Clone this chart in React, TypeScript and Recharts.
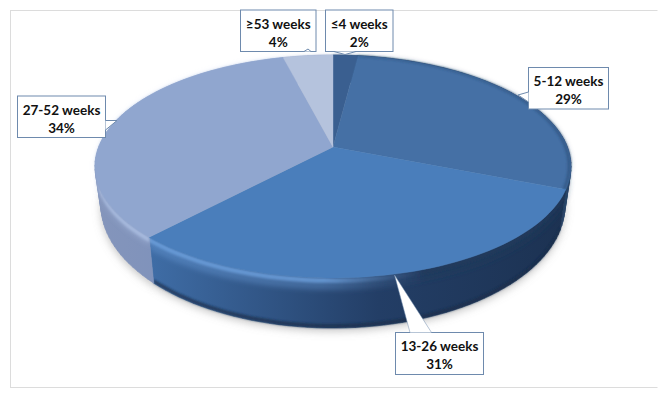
import React from 'react';
import { PieChart, Pie } from 'recharts';

// Share of cases by waiting time
const categories = ['≤4 weeks', '5-12 weeks', '13-26 weeks', '27-52 weeks', '≥53 weeks'];
const shares = [2, 29, 31, 34, 4];

const topColors = ['#3A5F90', '#4570A5', '#4A7EBB', '#90A6CF', '#B5C3DD'];
const wallColors = [
  ['#24405F', '#24405F'],
  ['#1E3757', '#2A4568'],
  ['#3F6DA6', '#1C3252'],
  ['#8495BB', '#7D91BB'],
  ['#8A9CC0', '#8A9CC0'],
];
const bevelColors = [
  ['#3A5F90', '#3A5F90'],
  ['#22395C', '#2A4568'],
  ['#6FA2DF', '#21395C'],
  ['#AEC1E4', '#A8BCE2'],
  ['#B5C3DD', '#B5C3DD'],
];

// callout boxes: x, y, w, h and pointer triangle
const callouts = [
  { box: [325.5, 10, 67.5, 41.5], ptr: [[334, 51.5], [345, 54.5], [356, 51.5]] },
  { box: [528.5, 67.5, 80, 41.5], ptr: [[528.5, 92], [518, 95], [528.5, 102]] },
  { box: [395.5, 332.5, 88, 42], ptr: [[410, 332.5], [394.5, 275], [431.5, 332.5]] },
  { box: [17.5, 96, 88, 41.5], ptr: [[105.5, 120.5], [117, 120.5], [105.5, 130]] },
  { box: [240.5, 10, 75.5, 41.5], ptr: [[304, 51.5], [308, 49], [311, 51.5]] },
];

const table = categories.map((name, i) => ({ name, value: shares[i] }));

const ASPECT = 2.17;
const TILT = 0.175;
// lower rim of the disc: narrower in x, stretched in y
const BOTTOM = { sx: 0.975, sy: 1.104, dy: 36.5 };
const TOP = { sx: 1, sy: 1, dy: 0 };

type Rim = { sx: number; sy: number; dy: number };

// maps a pie angle onto the tilted disc
function project(p: any, angle: number, rim: Rim) {
  const t = ((90 - angle) * Math.PI) / 180;
  const u = Math.sin(t);
  const v = -Math.cos(t);
  const w = 1 - TILT * v;
  const r = p.outerRadius;
  return [p.cx + (ASPECT * r * rim.sx * u) / w, p.cy + rim.dy + (r * rim.sy * v) / w];
}

function rimAngles(p: any) {
  const steps = Math.max(2, Math.ceil(Math.abs(p.endAngle - p.startAngle) / 2));
  const list: number[] = [];
  for (let i = 0; i <= steps; i++) list.push(p.startAngle + ((p.endAngle - p.startAngle) * i) / steps);
  return list;
}

function wedgePath(p: any, rim: Rim) {
  const pts = rimAngles(p).map((a) => project(p, a, rim));
  const body = pts.map((q) => `L${q[0].toFixed(1)},${q[1].toFixed(1)}`).join('');
  return `M${p.cx},${p.cy + rim.dy}${body}Z`;
}

function stripPath(p: any, r1: Rim, r2: Rim) {
  const list = rimAngles(p);
  let d = '';
  for (let i = 0; i < list.length - 1; i++) {
    const a = project(p, list[i], r1);
    const b = project(p, list[i + 1], r1);
    const c = project(p, list[i + 1], r2);
    const e = project(p, list[i], r2);
    d += `M${a[0]},${a[1]}L${b[0]},${b[1]}L${c[0]},${c[1]}L${e[0]},${e[1]}Z`;
  }
  return d;
}

function ShadowSlice(p: any) {
  return <path d={wedgePath(p, { ...BOTTOM, dy: BOTTOM.dy + 3 })} fill="#8a8a8a" fillOpacity={0.5} filter="url(#softShadow)" />;
}

function WallSlice(p: any) {
  const id = `wall-${p.index}`;
  const bid = `bevel-${p.index}`;
  const wall = `url(#${id})`;
  const bevel = `url(#${bid})`;
  const fadeFrom = p.index === 2 ? 0.42 : 0.5;
  const fadeTo = p.index === 2 ? 0.66 : 1;
  const bandDepth = p.index === 3 ? 8 : 12;
  return (
    <g>
      <defs>
        <linearGradient id={id} x1="0" x2="1" y1="0" y2="0">
          <stop offset="0" stopColor={wallColors[p.index][0]} />
          <stop offset="0.55" stopColor={p.index === 2 ? '#233E66' : wallColors[p.index][1]} />
          <stop offset="1" stopColor={wallColors[p.index][1]} />
        </linearGradient>
        <linearGradient id={bid} x1="0" x2="1" y1="0" y2="0">
          <stop offset="0" stopColor={bevelColors[p.index][0]} />
          <stop offset={fadeFrom} stopColor={bevelColors[p.index][0]} />
          <stop offset={fadeTo} stopColor={bevelColors[p.index][1]} />
          <stop offset="1" stopColor={bevelColors[p.index][1]} />
        </linearGradient>
      </defs>
      <path d={stripPath(p, TOP, BOTTOM)} fill={wall} stroke={wall} strokeWidth={0.6} />
      {p.index === 2 && (
        <path d={stripPath(p, { ...BOTTOM, dy: BOTTOM.dy - 4 }, BOTTOM)} fill="#182C4A" fillOpacity={0.7} filter="url(#softEdge)" />
      )}
      <path d={stripPath(p, TOP, { sx: 0.997, sy: 1, dy: bandDepth })} fill={bevel} fillOpacity={0.35} filter="url(#softBand)" />
      <path d={stripPath(p, TOP, { sx: 0.999, sy: 1, dy: 5 })} fill={bevel} fillOpacity={0.75} filter="url(#softEdge)" />
    </g>
  );
}

function TopSlice(p: any) {
  return (
    <g>
      <path d={wedgePath(p, TOP)} fill={topColors[p.index]} stroke={topColors[p.index]} strokeWidth={0.4} />
      {p.index === 1 && <path d={stripPath(p, TOP, { sx: 0.985, sy: 0.985, dy: 0 })} fill="#2A4A75" fillOpacity={0.55} filter="url(#softEdge)" />}
    </g>
  );
}

function Callout(p: any) {
  const c = callouts[p.index];
  const [x, y, w, h] = c.box;
  const tri = c.ptr.map((q) => q.join(',')).join(' ');
  const cxText = x + w / 2;
  return (
    <g>
      <rect x={x} y={y} width={w} height={h} fill="#fff" stroke="#6E8AAD" strokeWidth={1} />
      <polyline points={tri} fill="#fff" stroke="#6E8AAD" strokeWidth={p.index === 2 ? 0.5 : 1} />
      <text x={cxText} y={y + 18.5} textAnchor="middle" fontFamily="Lato" fontWeight={700} fontSize={13.5} fill="#111">
        {p.name}
      </text>
      <text x={cxText} y={y + 36.5} textAnchor="middle" fontFamily="Lato" fontWeight={700} fontSize={13.5} fill="#111">
        {p.value}%
      </text>
    </g>
  );
}

const pieProps = {
  data: table,
  dataKey: 'value',
  nameKey: 'name',
  cx: 333,
  cy: 147,
  outerRadius: 108,
  startAngle: 90,
  endAngle: -270,
  stroke: 'none',
  paddingAngle: 0,
  isAnimationActive: false,
};

export default function App() {
  return (
    <div style={{ position: 'absolute', left: 0, top: 0, width: 667, height: 398, background: '#fff' }}>
      <div style={{ position: 'absolute', left: 10, top: 10, width: 646, height: 376, border: '1px solid #DCDCDC', borderRightColor: '#fff' }} />
      <div style={{ position: 'absolute', left: 0, top: 0 }}>
        <PieChart width={667} height={398} margin={{ top: 0, right: 0, bottom: 0, left: 0 }}>
          <defs>
            <filter id="softShadow" x="-20%" y="-20%" width="140%" height="140%">
              <feGaussianBlur stdDeviation="4" />
            </filter>
            <filter id="softEdge" x="-5%" y="-20%" width="110%" height="140%">
              <feGaussianBlur stdDeviation="0.9" />
            </filter>
            <filter id="softBand" x="-5%" y="-30%" width="110%" height="160%">
              <feGaussianBlur stdDeviation="2.5" />
            </filter>
          </defs>
          <Pie {...pieProps} shape={ShadowSlice} />
          <Pie {...pieProps} shape={WallSlice} />
          <Pie {...pieProps} shape={TopSlice} label={Callout} labelLine={false} />
        </PieChart>
      </div>
    </div>
  );
}
